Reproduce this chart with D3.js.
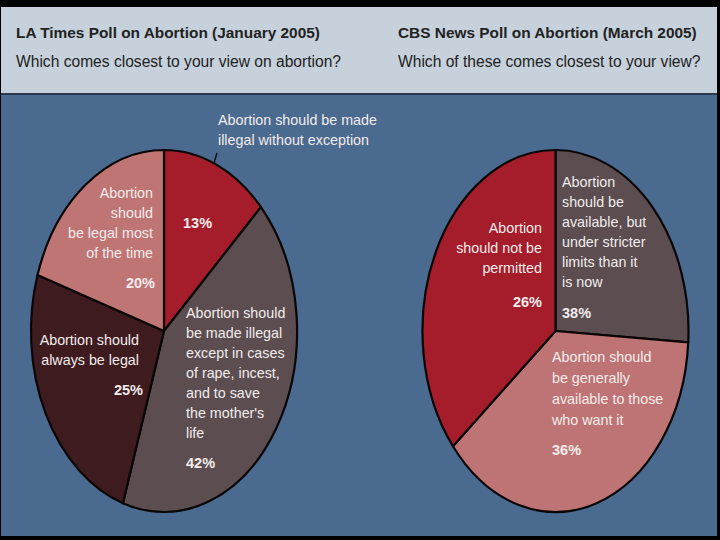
<!DOCTYPE html>
<html>
<head>
<meta charset="utf-8">
<script src="https://cdn.jsdelivr.net/npm/d3@7"></script>
<style>
  html, body { margin: 0; padding: 0; background: #000; }
  svg { display: block; }
</style>
</head>
<body>
<div id="chart"></div>
<script>
'use strict'

// ---- data ----
const laTitle = "LA Times Poll on Abortion (January 2005)"
const laQuestion = "Which comes closest to your view on abortion?"
const laAnswers = [
    ["Abortion should be made", "illegal without exception"],
    ["Abortion should", "be made illegal", "except in cases", "of rape, incest,", "and to save", "the mother's", "life"],
    ["Abortion should", "always be legal"],
    ["Abortion", "should", "be legal most", "of the time"]
]
const laShares = [13, 42, 25, 20]

const cbsTitle = "CBS News Poll on Abortion (March 2005)"
const cbsQuestion = "Which of these comes closest to your view?"
const cbsAnswers = [
    ["Abortion", "should be", "available, but", "under stricter", "limits than it", "is now"],
    ["Abortion should", "be generally", "available to those", "who want it"],
    ["Abortion", "should not be", "permitted"]
]
const cbsShares = [38, 36, 26]
// wedge sizes as they are drawn in the original graphic (they don't match the printed shares)
const cbsWedges = [26, 38, 36]

const laColors = ["#a51d2a", "#5b4d50", "#3e1b1e", "#c07575"]
const cbsColors = ["#5b4d50", "#be7474", "#a51d2a"]

////////////////////////////////////
//////////// svg setup /////////////
////////////////////////////////////

const svgWidth = 720, svgHeight = 540

const svg = d3.select('#chart')
    .append('svg')
    .attr('width', svgWidth)
    .attr('height', svgHeight)
    .attr('viewBox', `0 0 ${svgWidth} ${svgHeight}`)

const font = "'Liberation Sans', Arial, sans-serif"

// frame + header band
svg.append('rect').attr('x', 0).attr('y', 0).attr('width', svgWidth).attr('height', svgHeight).attr('fill', '#000')
svg.append('rect').attr('x', 1).attr('y', 7).attr('width', 716).attr('height', 87).attr('fill', '#c6d1dc')
svg.append('rect').attr('x', 1).attr('y', 93).attr('width', 716).attr('height', 2).attr('fill', '#2b3a4e')
svg.append('rect').attr('x', 1).attr('y', 95).attr('width', 716).attr('height', 441).attr('fill', '#4a6a8f')

// headings
function heading(x, title, question) {
    svg.append('text')
        .attr('x', x).attr('y', 38)
        .style('font-family', font).style('font-size', '15.4px').style('font-weight', 'bold')
        .style('fill', '#222')
        .text(title)
    svg.append('text')
        .attr('x', x).attr('y', 67)
        .style('font-family', font).style('font-size', '15.6px')
        .style('fill', '#222')
        .text(question)
}
heading(16, laTitle, laQuestion)
heading(398, cbsTitle, cbsQuestion)

////////////////////////////////////
//////////// pies //////////////////
////////////////////////////////////

const pie = d3.pie().sort(null).value(d => d)
const arc = d3.arc().innerRadius(0).outerRadius(1)

// pies are drawn as ellipses (stretched vertically), like the original
function drawPie(values, colors, cx, cy, rx, ry) {
    const g = svg.append('g')
        .attr('transform', `translate(${cx},${cy}) scale(${rx},${ry})`)
    g.selectAll('path')
        .data(pie(values))
        .join('path')
        .attr('d', arc)
        .attr('fill', (d, i) => colors[i])
        .attr('stroke', '#0a0606')
        .attr('stroke-width', 2.2)
        .attr('stroke-linejoin', 'round')
        .attr('vector-effect', 'non-scaling-stroke')
}

drawPie(laShares, laColors, 164, 331, 133, 181)
drawPie(cbsWedges, cbsColors, 555.5, 331, 133, 181)

// little pointer from the outside label to the red wedge
svg.append('line')
    .attr('x1', 217).attr('y1', 153).attr('x2', 214).attr('y2', 163)
    .attr('stroke', '#111').attr('stroke-width', 1.5)

////////////////////////////////////
//////////// labels ////////////////
////////////////////////////////////

// label block placement: x, first baseline, line step, anchor, baseline of the % figure, x of % figure
const laLabelPos = [
    {x: 218, y: 125, step: 20, anchor: 'start', py: 228, px: 183},
    {x: 186, y: 318, step: 20, anchor: 'start', py: 468, px: 186},
    {x: 139, y: 345, step: 20, anchor: 'end', py: 395, px: 143},
    {x: 153, y: 198, step: 20, anchor: 'end', py: 288, px: 155}
]
const cbsLabelPos = [
    {x: 562, y: 187, step: 20, anchor: 'start', py: 318, px: 562},
    {x: 552, y: 362, step: 21, anchor: 'start', py: 455, px: 552},
    {x: 542, y: 233, step: 20, anchor: 'end', py: 307, px: 542}
]

function drawLabels(answers, shares, pos) {
    answers.forEach((lines, i) => {
        const p = pos[i]
        const t = svg.append('text')
            .attr('text-anchor', p.anchor)
            .style('font-family', font).style('font-size', '14.3px')
            .style('fill', '#f2ecec')
        lines.forEach((line, k) => {
            t.append('tspan').attr('x', p.x).attr('y', p.y + k * p.step).text(line)
        })
        svg.append('text')
            .attr('x', p.px).attr('y', p.py)
            .attr('text-anchor', p.anchor)
            .style('font-family', font).style('font-size', '14.5px').style('font-weight', 'bold')
            .style('fill', '#f2ecec')
            .text(d3.format('d')(shares[i]) + '%')
    })
}

drawLabels(laAnswers, laShares, laLabelPos)
drawLabels(cbsAnswers, cbsShares, cbsLabelPos)
</script>
</body>
</html>
